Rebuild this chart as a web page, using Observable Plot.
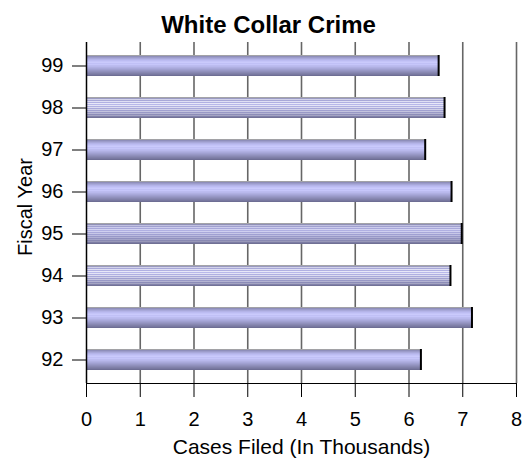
<!DOCTYPE html>
<html>
<head>
<meta charset="utf-8">
<script src="https://cdn.jsdelivr.net/npm/d3@7"></script>
<script src="https://cdn.jsdelivr.net/npm/@observablehq/plot@0.6"></script>
<style>
  body { margin: 0; background: #fff; }
</style>
</head>
<body>
<div id="chart"></div>
<script>
// Fiscal years (top to bottom) and cases filed, in thousands
const years = ["99", "98", "97", "96", "95", "94", "93", "92"];
const cases = [6.57, 6.68, 6.32, 6.81, 7.00, 6.79, 7.19, 6.24];
const xTicks = [0, 1, 2, 3, 4, 5, 6, 7, 8];
const title = "White Collar Crime";
const xTitle = "Cases Filed (In Thousands)";
const yTitle = "Fiscal Year";

// Horizontal striped fills for the bars, one colour per pixel row
const stripeRows = {
  stripeA: ["#a2a2a6", "#8e8eba", "#9c9cca", "#a8a8da", "#b4b4e8", "#bcbcf2", "#c4c4f8", "#cacafc",
            "#c0c0f6", "#c6c6fa", "#bcbcf0", "#b8b8ec", "#b0b0e2", "#a8a8da", "#a0a0d0", "#9898c6",
            "#9090bc", "#8888b2", "#8080a8", "#7878a0", "#6e6e94"],
  stripeB: ["#a4a4a8", "#9a9ac2", "#d2d2ea", "#a8a8d8", "#e0e0f4", "#b0b0e2", "#e8e8f8", "#b8b8ea",
            "#e4e4f6", "#b0b0e2", "#dcdcf0", "#a8a8da", "#d0d0e8", "#a0a0d0", "#c4c4de", "#9898c6",
            "#b4b4d2", "#8c8cb8", "#a4a4c2", "#8080aa", "#727296"],
  stripeC: ["#a4a4a8", "#9090b8", "#c0c0e0", "#a0a0d0", "#ccccec", "#a8a8da", "#d4d4f2", "#b0b0e2",
            "#d0d0f0", "#a8a8da", "#c8c8e8", "#a0a0d2", "#bcbce0", "#9898c8", "#b0b0d4", "#9090be",
            "#a4a4c8", "#8888b2", "#9898b8", "#7c7ca4", "#707094"]
};
const barStripe = { "99": "stripeA", "98": "stripeB", "97": "stripeA", "96": "stripeA",
                    "95": "stripeC", "94": "stripeB", "93": "stripeA", "92": "stripeA" };

const data = years.map((year, i) => ({ year, cases: cases[i] }));

const chart = Plot.plot({
  width: 527,
  height: 459,
  marginTop: 42,
  marginBottom: 76,
  marginLeft: 86,
  marginRight: 11,
  style: {
    background: "#fff",
    color: "#000",
    fontFamily: "'Liberation Sans', Arial, sans-serif",
    fontSize: "20px"
  },
  x: { domain: [0, 8], ticks: xTicks.length - 1, tickSize: 14, tickPadding: 14, line: true, label: null },
  y: { domain: years, paddingInner: 0.5, paddingOuter: 0.25, tickSize: 14, tickPadding: 9, label: null },
  color: { type: "ordinal", domain: years, range: years.map(y => `url(#${barStripe[y]})`) },
  marks: [
    Plot.ruleX(xTicks.slice(1), { stroke: "#666", strokeWidth: 1.6 }),
    Plot.barX(data, { x: "cases", y: "year", fill: "year" }),
    Plot.tickX(data, { x: "cases", y: "year", stroke: "#000", strokeWidth: 2, dx: -1 }),
    Plot.ruleX([0], { stroke: "#000", strokeWidth: 1.5 }),
    Plot.text([title], { text: d => d, frameAnchor: "top", dx: -33, dy: -10, lineAnchor: "bottom",
                         fontSize: 24, fontWeight: "bold" }),
    Plot.text([xTitle], { text: d => d, frameAnchor: "bottom", dy: 70, lineAnchor: "bottom", fontSize: 21 }),
    Plot.text([yTitle], { text: d => d, frameAnchor: "left", dx: -61, dy: -6, rotate: -90,
                          textAnchor: "middle", lineAnchor: "middle", fontSize: 20 })
  ]
});

// Gradient definitions used by the bar fills
const defs = d3.select(chart).insert("defs", ":first-child");
for (const [id, rows] of Object.entries(stripeRows)) {
  const g = defs.append("linearGradient")
    .attr("id", id)
    .attr("x1", 0).attr("y1", 0).attr("x2", 0).attr("y2", 1);
  rows.forEach((c, i) => {
    g.append("stop").attr("offset", i / rows.length).attr("stop-color", c);
    g.append("stop").attr("offset", (i + 1) / rows.length).attr("stop-color", c);
  });
}

document.getElementById("chart").appendChild(chart);
</script>
</body>
</html>
